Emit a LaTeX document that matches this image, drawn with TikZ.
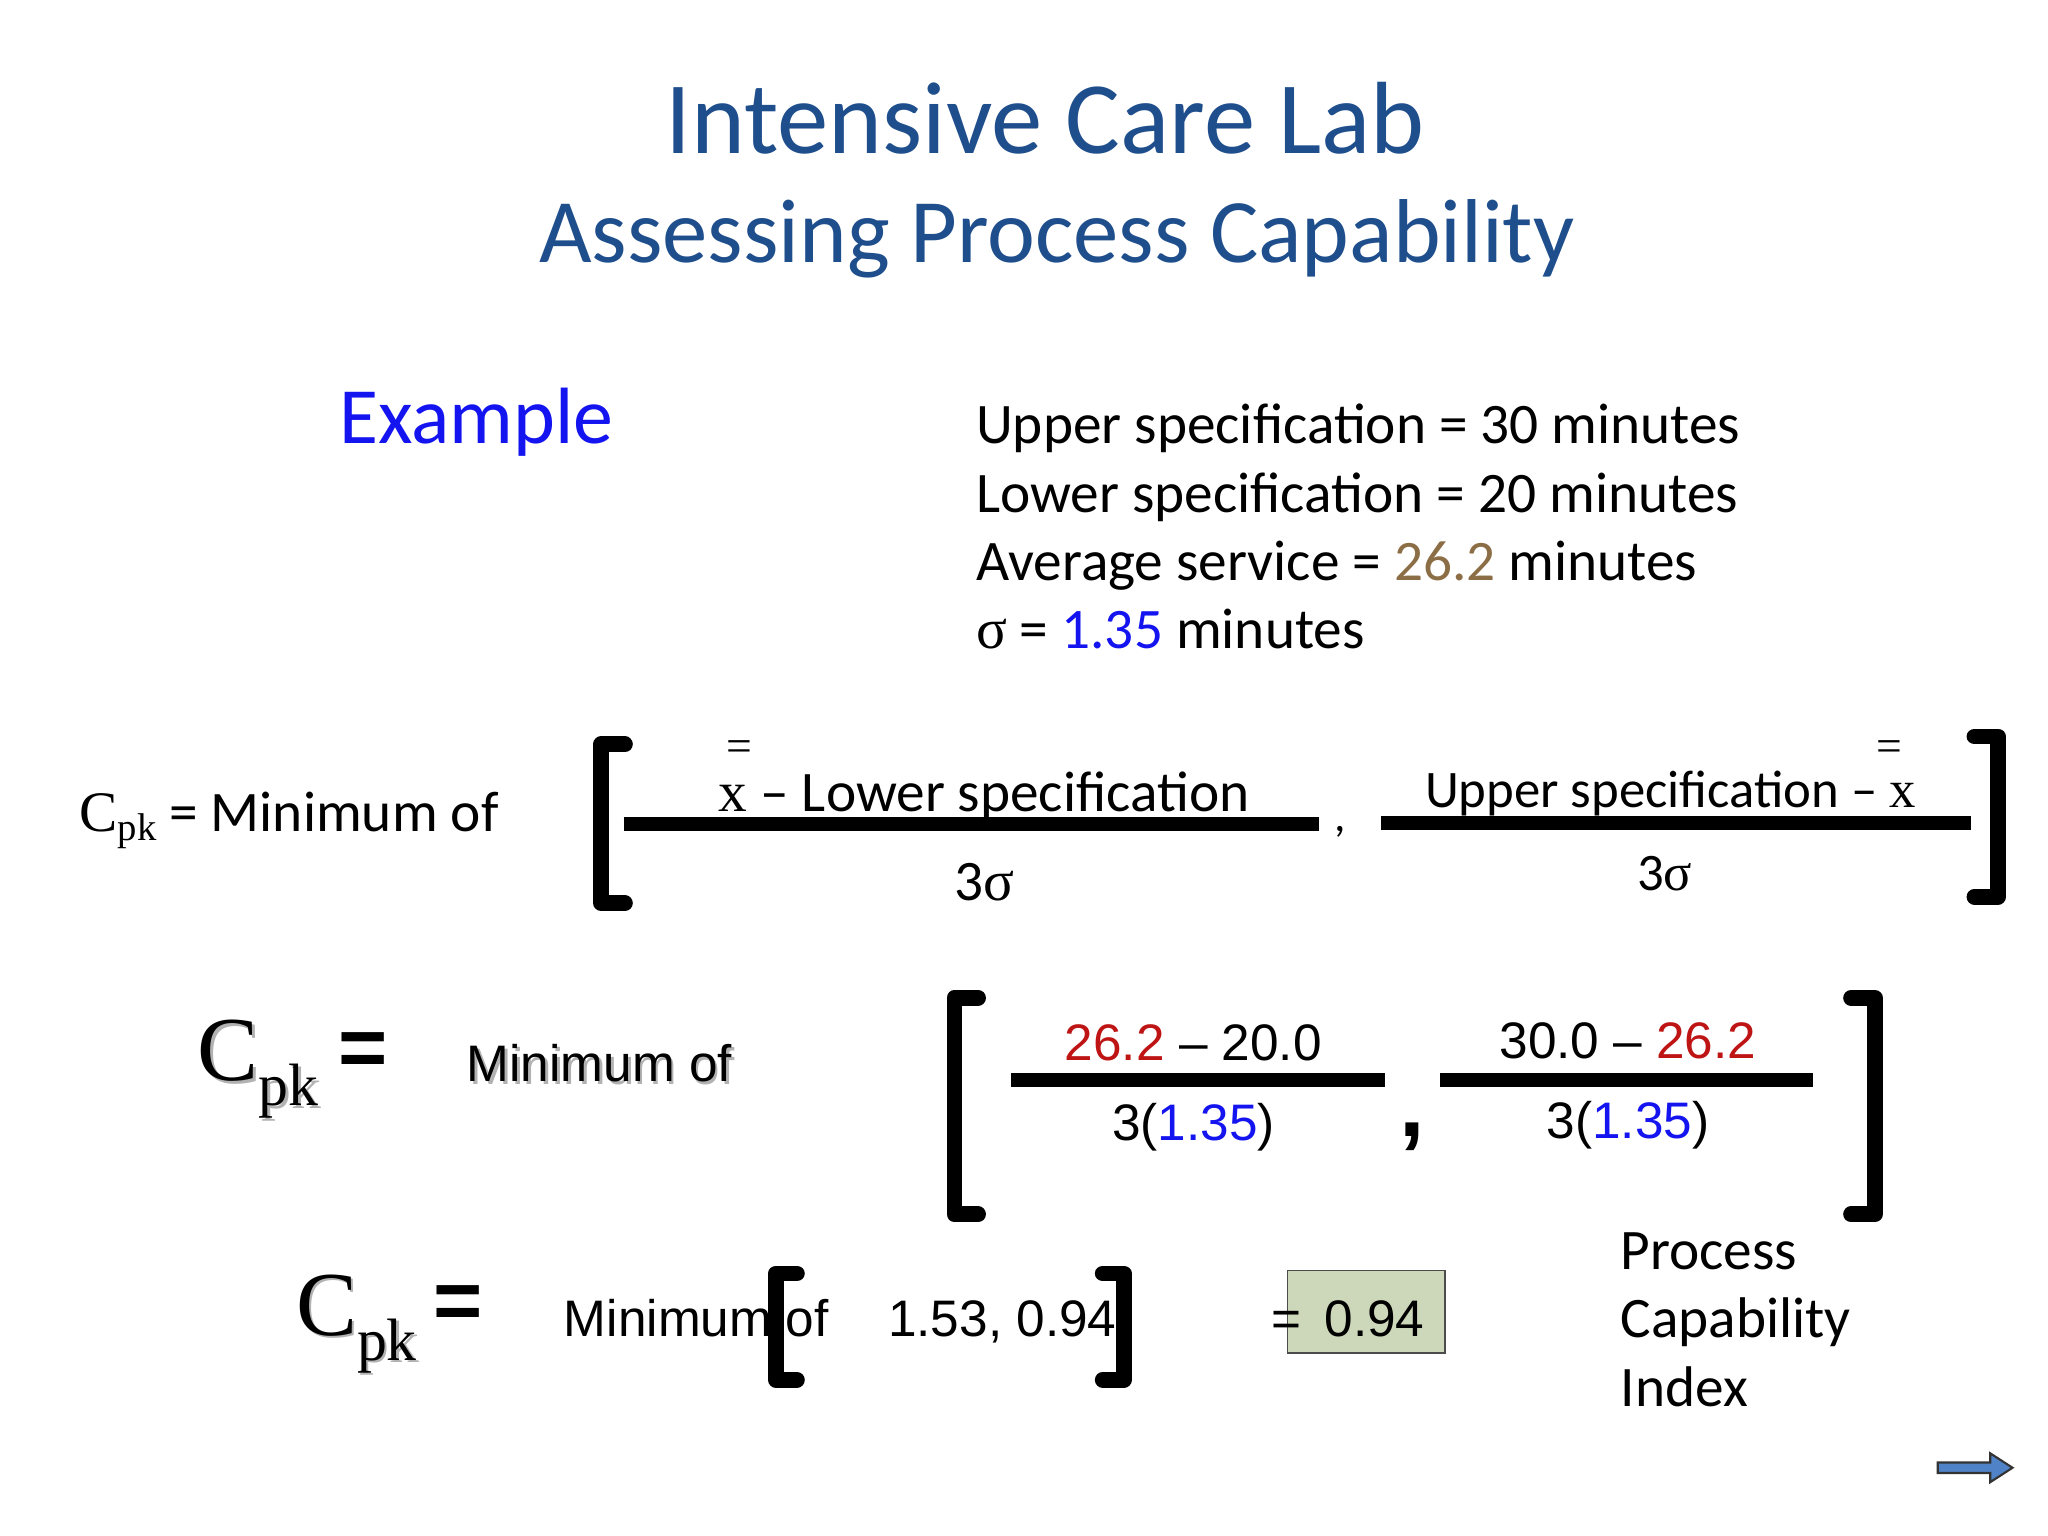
\documentclass[tikz,border=0pt]{standalone}
\usepackage{fontspec}
\setmainfont{Carlito}
\newfontfamily\arl[Ligatures=TeX]{Liberation Sans}
\newfontfamily\tms{Liberation Serif}
\definecolor{ttl}{RGB}{31,78,140}
\definecolor{exb}{RGB}{20,20,240}
\definecolor{brn}{RGB}{140,110,70}
\definecolor{rd}{RGB}{190,20,20}
\definecolor{bx}{RGB}{205,215,185}
\definecolor{arw}{RGB}{80,130,200}
\tikzset{
  t/.style={inner sep=0pt,anchor=base west},
  br/.style={line width=4.5pt,line cap=round,line join=round},
  bar/.style={line width=4pt},
  sh/.style={inner sep=0pt,anchor=base west,text=gray!60},
}
\newcommand{\fs}[1]{\fontsize{#1}{#1}\selectfont}
\begin{document}
\begin{tikzpicture}[x=0.01313cm,y=-0.01313cm]
\useasboundingbox (0,0) rectangle (1560,1170);
\node[inner sep=0pt,anchor=base,text=ttl] (t1) at (796,117) {\fs{29.2}Intensive Care Lab};
\node[inner sep=0pt,anchor=base,text=ttl] (t2) at (805,200) {\fs{25.8}Assessing Process Capability};
\node[t,text=exb] (ex) at (258,338) {\fs{22.7}Example};
\node[t] (s1) at (743,338) {\fs{16.3}Upper specification = 30 minutes};
\node[t] (s2) at (743,390) {\fs{16.3}Lower specification = 20 minutes};
\node[t] (s3) at (743,442) {\fs{16.3}Average service = \textcolor{brn}{26.2} minutes};
\node[t] (s4) at (743,494) {\fs{16.3}{\tms σ} = \textcolor{exb}{1.35} minutes};
% line 1
\node[t] (c1) at (60,633) {\fs{16.3}{\tms C\raisebox{-0.35ex}{\fs{11}pk}} = Minimum of};
\draw[br] (476,567) -- (458,567) -- (458,688) -- (476,688);
\draw[br] (1504,561) -- (1522,561) -- (1522,683) -- (1504,683);
\node[t] (n1) at (547,618) {\fs{16.3}{\tms x} – Lower specification};
\node[inner sep=0pt] (xb1) at (563,572) {\tms\fs{13}=};
\draw[bar] (475,628) -- (1005,628);
\node[inner sep=0pt,anchor=base] (d1) at (750,686) {\fs{16.3}3{\tms σ}};
\node[inner sep=0pt,anchor=base] (cm1) at (1021,633) {\fs{13},};
\node[t] (n2) at (1085,615) {\fs{15}Upper specification – {\tms x}};
\node[inner sep=0pt] (xb2) at (1439,572) {\tms\fs{13}=};
\draw[bar] (1052,627) -- (1501,627);
\node[inner sep=0pt,anchor=base] (d2) at (1268,678) {\fs{15}3{\tms σ}};
% line 2
\node[sh] (c2s) at (152,825) {\tms\fs{26}C\raisebox{-0.6ex}{\fs{17}pk}};
\node[t] (c2) at (150,823) {\tms\fs{26}C\raisebox{-0.6ex}{\fs{17}pk}};
\node[t] (e2) at (257,820) {\arl\bfseries\fs{24}=};
\node[sh] (m2s) at (357,826) {\arl\fs{14.6}Minimum of};
\node[t] (m2) at (355,824) {\arl\fs{14.6}Minimum of};
\draw[br] (745,760) -- (727,760) -- (727,925) -- (745,925);
\draw[br] (1410,760) -- (1428,760) -- (1428,925) -- (1410,925);
\node[inner sep=0pt,anchor=base] (n3) at (909,808) {\arl\fs{14.6}\textcolor{rd}{26.2} – 20.0};
\draw[bar] (770,823) -- (1055,823);
\node[inner sep=0pt,anchor=base] (d3) at (909,869) {\arl\fs{14.6}3(\textcolor{exb}{1.35})};
\node[inner sep=0pt,anchor=base] (cm2) at (1076,866) {\arl\bfseries\fs{26},};
\node[inner sep=0pt,anchor=base] (n4) at (1240,806) {\arl\fs{14.6}30.0 – \textcolor{rd}{26.2}};
\draw[bar] (1097,823) -- (1381,823);
\node[inner sep=0pt,anchor=base] (d4) at (1240,867) {\arl\fs{14.6}3(\textcolor{exb}{1.35})};
% line 3
\node[sh] (c3s) at (227,1019) {\tms\fs{26}C\raisebox{-0.6ex}{\fs{17}pk}};
\node[t] (c3) at (225,1017) {\tms\fs{26}C\raisebox{-0.6ex}{\fs{17}pk}};
\node[t] (e3) at (330,1013) {\arl\bfseries\fs{24}=};
\node[t] (m3) at (429,1018) {\arl\fs{14.6}Minimum};
\node[t] (m3b) at (598,1018) {\arl\fs{14.6}of};
\node[t] (m3c) at (676,1018) {\arl\fs{14.6}1.53, 0.94};
\draw[br] (607,970) -- (591,970) -- (591,1051) -- (607,1051);
\draw[br] (840,970) -- (856,970) -- (856,1051) -- (840,1051);
\node[draw=black!70,fill=bx,minimum width=44.8pt,minimum height=23.5pt,inner sep=0pt,anchor=north west] (bx) at (980,967) {};
\node[t] (v) at (968,1018) {\arl\fs{14.6}=\hspace{0.45em}0.94};
\node[t] (p1) at (1234,967) {\fs{16.3}Process};
\node[t] (p2) at (1234,1019) {\fs{16.3}Capability};
\node[t] (p3) at (1234,1071) {\fs{16.3}Index};
\draw[fill=arw,draw=black!80,line width=0.6pt] (1476,1114) -- (1516,1114) -- (1516,1107) -- (1533,1118) -- (1516,1129) -- (1516,1122) -- (1476,1122) -- cycle;
\end{tikzpicture}
\end{document}
